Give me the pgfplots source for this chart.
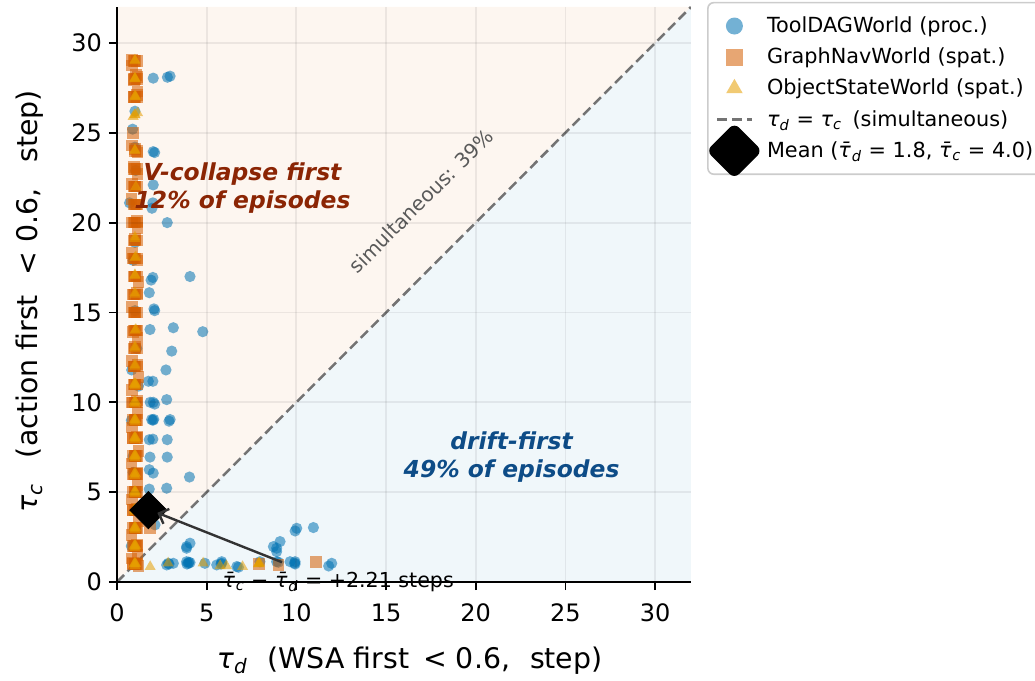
\documentclass[border=0pt]{standalone}
\usepackage{fontspec}
\setmainfont{DejaVu Sans}
\usepackage{pgfplots}
\pgfplotsset{compat=1.18}
\usetikzlibrary{arrows.meta}
\definecolor{cblue}{HTML}{0072B2}
\definecolor{cverm}{HTML}{D55E00}
\definecolor{corange}{HTML}{E69F00}
\definecolor{vcol}{HTML}{8B2504}
\definecolor{dcol}{HTML}{0D4C87}
\newcommand{\tsub}[2]{\textit{#1}\textsubscript{\textit{#2}}}
\newcommand{\tbar}[1]{\textit{τ̄}\textsubscript{\textit{#1}}}
\pgfplotsset{
  sqstyle/.style={only marks, mark=square*, mark size=2.9pt, mark options={fill=cverm, fill opacity=0.55, draw opacity=0}, forget plot},
  tristyle/.style={only marks, mark=triangle*, mark size=3.2pt, mark options={fill=corange, fill opacity=0.55, draw opacity=0}, forget plot},
}
\begin{document}
\begin{tikzpicture}
\begin{axis}[
  name=ax, at={(0,0)}, anchor=south west,
  scale only axis, width=287pt, height=287.5pt,
  xmin=0, xmax=32, ymin=0, ymax=32,
  axis x line*=bottom, axis y line*=left,
  axis line style={line width=1.2pt, black},
  xtick={0,5,...,30}, ytick={0,5,...,30},
  tick align=outside, major tick length=4pt,
  every tick/.style={black, line width=0.9pt},
  grid=major, grid style={line width=0.9pt, black, opacity=0.065},
  axis on top, clip mode=individual,
  tick label style={font=\fontsize{12}{14}\selectfont},
  xticklabel style={yshift=-3.5pt},
  /pgf/number format/assume math mode=true,
  xlabel={\tsub{τ}{d}\hspace{0.7em}(WSA first \,< 0.6,\hspace{0.7em}step)},
  ylabel={\tsub{τ}{c}\hspace{0.9em}(action first\hspace{0.7em}< 0.6,\hspace{0.9em}step)},
  label style={font=\fontsize{14.2}{16}\selectfont},
  xlabel style={at={(axis description cs:0.51,-0.137)}, anchor=center},
  ylabel style={at={(axis description cs:-0.1516,0.488)}, anchor=center},
  legend style={at={(1.028,1.009)}, anchor=north west, draw=black!20,
    line width=0.8pt, rounded corners=3pt, font=\fontsize{10.4}{12}\selectfont,
    row sep=2.2pt, inner xsep=4pt, inner ysep=5pt,
    /tikz/every odd column/.style={column sep=5pt}},
  legend cell align=left,
]
% background regions
\addplot[draw=none, fill=cverm, fill opacity=0.06, forget plot] coordinates {(0,0) (0,32) (32,32)} -- cycle;
\addplot[draw=none, fill=cblue, fill opacity=0.06, forget plot] coordinates {(0,0) (32,0) (32,32)} -- cycle;
% diagonal
\addplot[black!55, dash pattern=on 5pt off 2.5pt, line width=1.25pt, forget plot] coordinates {(0,0) (32,32)};
% ToolDAGWorld
\addplot[only marks, mark=*, mark size=2.8pt, mark options={fill=cblue, fill opacity=0.55, draw opacity=0}, forget plot] coordinates {
(2.02,28.04) (2.81,28.09) (2.96,28.15) (1.0,26.2) (0.87,25.2) (1.0,24.2) (2.02,23.95) (2.1,23.9)
(2.02,22.1) (0.7,21.1) (2.0,21.1) (1.95,20.8) (2.8,20.0) (1.0,18.9) (4.07,17.0) (2.0,16.95)
(1.9,16.8) (1.8,16.1) (1.0,15.1) (2.06,15.2) (2.1,15.1) (1.84,14.05) (3.14,14.15) (4.78,13.93)
(3.05,12.85) (2.73,11.8) (0.82,11.8) (1.75,11.17) (2.0,11.17) (2.77,10.15) (2.02,10.0) (2.1,9.9)
(1.93,9.04) (2.0,9.0) (2.96,9.04) (2.9,8.95) (0.8,9.0) (1.8,7.92) (2.8,7.92) (1.84,6.95)
(2.8,6.95) (1.8,6.25) (2.02,6.06) (4.04,5.84) (1.8,5.17) (2.77,5.22) (1.0,5.0) (2.12,3.18)
(1.0,3.0) (3.88,1.97) (4.07,2.16) (3.88,1.88) (2.77,0.95) (2.86,1.04) (3.14,1.04) (3.88,1.13)
(3.98,1.04) (4.07,1.08) (4.9,1.04) (5.56,0.95) (5.84,1.13) (5.84,1.04) (6.68,0.86) (6.77,0.82)
(7.97,1.13) (8.72,1.97) (8.9,1.88) (8.9,1.69) (9.09,2.25) (9.65,1.13) (9.93,1.13) (9.93,1.0)
(8.9,1.13) (9.93,2.84) (10.02,2.99) (10.95,3.03) (11.8,0.89) (11.97,1.04) (1.0,1.0)
(0.9,7.0) (1.1,13.0) (0.9,17.9) (1.05,22.9) (0.8,2.0) (1.2,10.9) (0.9,6.1)
(3.9,1.0) (4.0,1.1) (5.8,1.0) (9.9,1.05) (2.9,1.0) (9.0,1.1) (2.05,9.05) (2.0,7.95) (1.85,10.0)
};
% GraphNavWorld
\addplot[sqstyle] coordinates {
(1.0,29.0) (0.85,29.05) (1.15,28.1) (0.95,27.95) (1.05,28.2) (1.1,27.1) (0.95,27.0) (0.9,25.0)
(1.0,24.1) (1.15,23.9) (0.95,23.1) (1.0,22.0) (0.85,22.15) (1.05,21.0) (1.1,20.1) (0.85,20.0)
(1.0,19.1) (0.9,18.0) (1.15,17.9) (1.0,17.0) (0.9,16.0) (1.1,16.1) (1.0,15.0) (1.05,14.0)
(0.9,13.9) (1.0,13.1) (0.95,12.0) (1.15,12.1) (1.0,11.0) (0.85,10.0) (1.1,10.1) (1.0,9.0)
(0.9,8.0) (1.1,8.1) (1.0,7.0) (0.95,6.0) (1.1,6.05) (1.0,5.0) (0.9,4.0) (1.1,4.1)
(1.0,3.0) (0.95,2.0) (1.1,2.05) (1.0,1.0) (0.9,1.05) (1.85,3.0) (7.9,1.0) (9.0,0.95) (11.1,1.1)
(0.85,28.75) (1.15,27.3) (0.85,24.3) (1.15,22.7) (0.8,21.3) (1.15,19.7) (0.85,18.3) (1.2,16.7)
(0.85,15.3) (1.15,13.6) (0.85,12.3) (1.2,11.4) (0.85,10.7) (1.15,9.4) (0.85,8.6) (1.2,7.3)
(0.8,6.6) (1.15,5.4) (0.85,4.6) (1.2,3.4) (0.8,2.6) (1.15,1.5) (0.8,1.3) (1.2,0.9)
};
\addplot[sqstyle] coordinates {
(1.0,28.0) (1.0,27.0) (1.0,24.0) (1.0,23.0) (1.0,22.0) (1.0,21.0) (1.0,20.0) (1.0,19.0)
(1.0,18.0) (1.0,17.0) (1.0,16.0) (1.0,15.0) (1.0,14.0) (1.0,13.0) (1.0,12.0) (1.0,11.0)
(1.0,10.0) (1.0,9.0) (1.0,8.0) (1.0,7.0) (1.0,6.0) (1.0,5.0) (1.0,4.0) (1.0,3.0) (1.0,2.0) (1.0,1.0)
(0.9,10.0) (0.9,9.0) (0.9,8.0) (0.9,7.0) (0.9,6.0) (0.9,5.0) (0.9,4.0) (0.9,3.0) (0.9,2.0) (0.9,1.0)
(1.1,29.0) (1.1,28.0) (1.1,27.0) (1.1,24.0) (1.1,23.0) (1.1,22.0) (1.1,21.0) (1.1,20.0) (1.1,19.0)
(1.1,18.0) (1.1,17.0) (1.1,16.0) (1.1,15.0) (1.1,14.0) (1.1,13.0) (1.1,12.0) (1.1,11.0)
(1.1,10.0) (1.1,9.0) (1.1,8.0) (1.1,7.0) (1.1,6.0) (1.1,5.0) (1.1,4.0) (1.1,3.0) (1.1,2.0) (1.1,1.0)
(0.95,29.0) (0.95,28.0) (0.95,27.0) (0.95,23.0) (0.95,22.0) (0.95,21.0) (0.95,20.0) (0.95,19.0)
(0.95,18.0) (0.95,17.0) (0.95,16.0) (0.95,15.0) (0.95,14.0) (0.95,13.0) (0.95,12.0) (0.95,11.0)
(1.05,10.0) (1.05,9.0) (1.05,8.0) (1.05,7.0) (1.05,6.0) (1.05,5.0) (1.05,4.0) (1.05,3.0) (1.05,2.0) (1.05,1.0)
};
% ObjectStateWorld
\addplot[tristyle] coordinates {
(1.0,29.0) (1.0,28.0) (1.05,27.0) (1.0,26.0) (0.9,25.9) (1.15,26.1) (1.0,24.0) (1.05,22.0)
(1.0,19.2) (1.05,18.1) (1.0,17.1) (1.0,16.1) (1.05,14.05) (1.0,13.1) (1.0,12.1) (1.0,11.0)
(1.05,10.0) (1.0,9.0) (1.0,8.0) (1.0,7.0) (1.05,6.0) (1.0,5.0) (1.0,4.0) (1.0,3.0)
(1.0,2.0) (1.0,1.0) (1.85,0.85) (2.85,1.05) (4.8,1.05) (5.75,0.9) (6.1,0.9) (7.0,0.85) (7.9,1.05)
(1.0,10.9) (1.0,9.9) (1.0,8.9) (1.0,7.9) (1.0,6.9) (1.0,5.9) (1.0,4.9) (1.0,3.9) (1.0,2.9) (1.0,1.9) (1.0,0.9)
(0.95,11.0) (0.95,10.0) (0.95,9.0) (0.95,8.0) (0.95,7.0) (0.95,6.0) (0.95,5.0) (0.95,4.0) (0.95,3.0) (0.95,2.0) (0.95,1.0)
(1.0,29.05) (1.0,28.05) (1.0,27.05) (1.0,16.0) (1.0,13.0) (1.0,12.0) (1.0,19.1)
(7.9,1.0) (7.95,1.05)
};
\addplot[tristyle] coordinates {
(1.0,11.05) (1.0,10.05) (1.0,9.05) (1.0,8.05) (1.0,7.05) (1.0,6.05) (1.0,5.05) (1.0,4.05) (1.0,3.05) (1.0,2.05) (1.0,1.05)
(1.05,11.0) (1.05,9.0) (1.05,8.0) (1.05,7.0) (1.05,5.0) (1.05,4.0) (1.05,3.0) (1.05,2.0) (1.05,1.0)
(1.0,28.0) (1.0,27.0) (1.0,24.05) (1.0,18.05) (1.0,17.05) (1.0,14.0) (1.0,26.0) (7.9,1.0)
};
% mean
\addplot[only marks, mark=square*, mark size=6.6pt, mark options={rotate=45, fill=black, draw=black}, forget plot] coordinates {(1.75,4.0)};
% annotations
\draw[black!80, line width=1.2pt, -{Straight Barb[length=4pt, width=8pt]}] (axis cs:9.2,1.1) -- (axis cs:2.25,3.85);
\node[font=\fontsize{10.3}{12}\selectfont, anchor=base] at (axis cs:12.33,-0.3) {\tbar{c} − \tbar{d} = +2.21 steps};
\node[font=\fontsize{11.7}{14}\selectfont\bfseries\itshape, text=vcol, align=center] at (axis cs:7.0,21.9) {V-collapse first\\12\% of episodes};
\node[font=\fontsize{11.7}{14}\selectfont\bfseries\itshape, text=dcol, align=center] at (axis cs:22.0,6.97) {drift-first\\49\% of episodes};
\node[font=\fontsize{10}{12}\selectfont, text=black!65, rotate=45] at (axis cs:16.95,21.2) {simultaneous: 39\%};
% legend
\addlegendimage{only marks, mark=*, mark size=4.25pt, mark options={fill=cblue, fill opacity=0.55, draw opacity=0}}
\addlegendentry{ToolDAGWorld (proc.)}
\addlegendimage{only marks, mark=square*, mark size=4.2pt, mark options={fill=cverm, fill opacity=0.55, draw opacity=0}}
\addlegendentry{GraphNavWorld (spat.)}
\addlegendimage{only marks, mark=triangle*, mark size=4.8pt, mark options={fill=corange, fill opacity=0.55, draw opacity=0}}
\addlegendentry{ObjectStateWorld (spat.)}
\addlegendimage{black!55, dash pattern=on 5pt off 2.5pt, line width=1.5pt}
\addlegendentry{\tsub{τ}{d} = \tsub{τ}{c}\hspace{0.5em}(simultaneous)}
\addlegendimage{legend image code/.code={\path (0pt,-4pt) rectangle (17pt,4pt); \draw[overlay, fill=black, draw=black] (8.5pt,0pt) ++(0pt,-13.4pt) -- ++(13.4pt,13.4pt) -- ++(-13.4pt,13.4pt) -- ++(-13.4pt,-13.4pt) -- cycle;}}
\addlegendentry{Mean (\tbar{d} = 1.8, \tbar{c} = 4.0)}
\end{axis}
\pgfresetboundingbox
\path (-58.5pt,-49.5pt) rectangle (459pt,291pt);
\end{tikzpicture}
\end{document}
